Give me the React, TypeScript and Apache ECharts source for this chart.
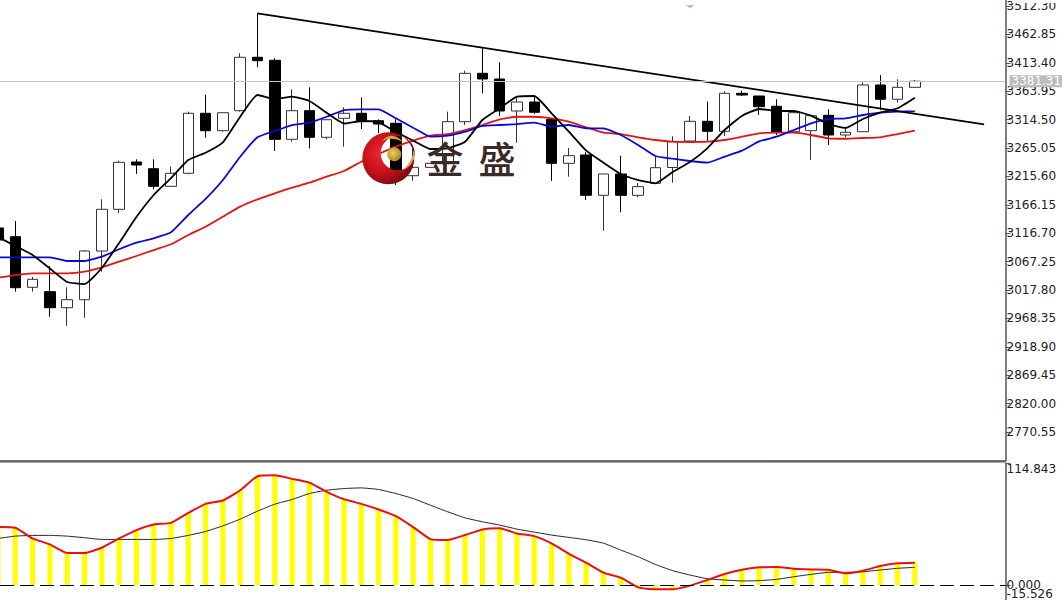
import React, { useEffect, useRef } from "react";
import * as echarts from "echarts";

const opens = [3125.8,3110.6,3022.5,3014.9,2987.0,3000.9,3085.7,3158.3,3240.7,3229.0,3198.4,3221.0,3325.5,3295.2,3330.0,3423.0,3417.8,3280.2,3330.0,3283.7,3316.8,3325.5,3312.6,3308.1,3216.8,3231.4,3238.4,3310.9,3395.1,3385.2,3329.5,3345.1,3315.0,3238.4,3252.9,3182.7,3219.8,3182.7,3203.6,3231.1,3277.2,3311.5,3294.1,3360.3,3355.6,3337.7,3293.4,3295.2,3322.0,3287.7,3293.4,3374.8,3349.9,3370.7];
const closes = [3104.9,3021.8,3036.4,2987.0,3000.9,3085.7,3158.3,3240.1,3235.4,3198.4,3221.0,3325.5,3295.2,3326.5,3423.0,3417.1,3280.2,3330.0,3283.7,3314.3,3325.5,3310.9,3306.8,3225.5,3231.4,3238.4,3310.9,3395.1,3385.2,3329.5,3345.1,3327.2,3238.4,3251.7,3182.7,3219.8,3182.7,3197.7,3230.8,3276.0,3311.5,3294.1,3360.3,3357.3,3337.0,3292.4,3326.5,3321.3,3287.7,3292.4,3374.8,3349.9,3370.7,3381.31];
const lows = [3103.1,3014.9,3014.9,2971.3,2955.6,2969.6,3049.7,3151.4,3219.8,3193.1,3198.4,3219.3,3283.0,3293.4,3328.3,3405.6,3259.8,3276.0,3264.5,3280.2,3267.3,3298.1,3291.2,3200.6,3208.1,3231.4,3238.4,3305.1,3360.3,3320.8,3274.3,3324.3,3207.6,3215.1,3174.5,3121.1,3153.1,3179.2,3203.6,3204.6,3277.2,3277.8,3285.9,3355.6,3322.5,3287.7,3292.4,3244.2,3270.3,3283.7,3293.4,3331.2,3344.0,3370.7];
const highs = [3129.2,3138.0,3040.4,3059.6,3022.5,3087.4,3175.7,3243.0,3245.4,3245.4,3232.5,3328.3,3357.9,3326.5,3430.0,3499.6,3421.2,3367.3,3370.7,3315.5,3335.9,3353.3,3315.0,3315.0,3270.3,3238.4,3328.3,3399.6,3438.6,3414.3,3354.4,3354.4,3316.8,3265.1,3257.6,3219.8,3251.7,3204.1,3249.9,3285.4,3320.8,3345.7,3363.8,3364.8,3355.6,3349.9,3327.7,3322.5,3332.4,3299.4,3379.5,3392.2,3384.7,3383.5];

const maFast = [3110.1,3094.4,3078.7,3055.2,3031.7,3028.2,3056.1,3099.6,3144.9,3183.2,3212.8,3244.2,3256.9,3275.0,3319.5,3357.3,3350.4,3354.4,3346.9,3326.5,3307.7,3312.1,3309.8,3293.4,3277.8,3263.3,3264.5,3276.0,3313.8,3334.2,3354.4,3355.6,3325.5,3293.4,3260.4,3239.5,3219.8,3209.3,3203.6,3223.3,3240.7,3264.5,3296.4,3320.8,3333.0,3329.5,3329.5,3321.3,3306.8,3299.9,3315.5,3326.5,3334.2,3352.6];
const maMid = [3074.7,3074.7,3074.7,3074.7,3068.3,3068.3,3075.8,3088.7,3100.2,3107.8,3118.3,3148.4,3176.3,3209.3,3249.9,3283.7,3294.7,3305.1,3309.1,3319.5,3331.2,3332.4,3332.4,3316.8,3300.4,3284.7,3286.5,3293.4,3303.4,3305.1,3306.8,3309.1,3302.1,3305.1,3299.4,3299.4,3287.7,3270.3,3251.1,3246.4,3242.4,3239.5,3249.9,3260.4,3276.7,3284.7,3296.4,3308.1,3315.5,3316.8,3322.5,3326.5,3328.3,3329.0];
const maSlow = [3039.2,3043.9,3046.9,3046.9,3046.9,3049.7,3057.3,3067.1,3077.0,3087.4,3097.4,3113.6,3128.0,3145.4,3162.9,3175.7,3186.2,3195.9,3204.6,3215.1,3225.0,3241.2,3254.6,3267.3,3277.8,3286.5,3289.4,3296.4,3305.1,3315.0,3319.5,3319.5,3316.8,3310.9,3301.1,3291.7,3289.4,3283.7,3279.0,3276.0,3275.5,3276.0,3279.0,3284.7,3290.7,3291.7,3291.7,3287.7,3281.9,3281.2,3282.5,3283.7,3289.4,3295.2];

const macd = [54.5,53.9,43.8,38.2,30.1,30.1,35.1,43.8,51.7,57.0,58.5,67.9,76.4,79.5,89.2,102.4,103.3,99.9,96.4,87.7,80.8,76.4,71.1,64.8,54.5,43.2,42.3,47.0,52.3,53.5,48.5,46.0,39.1,29.4,21.0,11.6,6.9,-2.2,-4.1,-4.1,-0.6,4.7,10.3,14.4,16.6,16.9,15.3,14.7,14.4,11.0,13.5,17.8,20.4,21.0];
const signal = [43.8,46.0,46.7,46.7,46.0,44.5,42.9,42.9,42.9,42.9,43.8,46.7,50.4,55.7,62.0,69.5,76.1,80.5,86.1,89.2,90.8,91.4,89.9,86.1,81.4,75.1,68.9,63.2,59.5,56.4,52.6,49.8,47.0,44.8,42.6,39.4,32.9,26.6,19.4,13.5,9.4,5.9,4.7,3.8,4.1,5.3,7.8,10.0,11.9,11.9,12.5,14.1,15.7,16.6];

const priceTicks = [3512.30,3462.85,3413.40,3363.95,3314.50,3265.05,3215.60,3166.15,3116.70,3067.25,3017.80,2968.35,2918.90,2869.45,2820.00,2770.55];
const macdTicks = [0,114.843];
const macdMinTick = [-15.526];
const lastPrice = 3381.31;
const trendIndex = [15,57];
const trendPrice = [3499.6,3306.3];

const CRESCENT = "M-26,0 A26,26 0 1,1 26,0 A26,26 0 1,1 -26,0 Z M-7.6,-5 A17,17 0 1,0 26.4,-5 A17,17 0 1,0 -7.6,-5 Z";
const SWOOSH_TOP = "M382,141 Q392,130 403,142 Q392,136 382,141 Z";
const SWOOSH_RIGHT = "M403,170 Q416,164 414,151 Q411,163 403,170 Z";

let registered = false;
function registerLogo() {
  if (registered) return;
  registered = true;
  echarts.graphic.registerShape("jsCrescent", echarts.graphic.extendPath(CRESCENT, {}));
  echarts.graphic.registerShape("jsSwooshTop", echarts.graphic.extendPath(SWOOSH_TOP, {}));
  echarts.graphic.registerShape("jsSwooshRight", echarts.graphic.extendPath(SWOOSH_RIGHT, {}));
}

const XMIN = 0.1156;
const XMAX = 58.24;
const FONT = "DejaVu Sans";
const MA_SMOOTH = 0.15;

export default function App() {
  const ref = useRef<HTMLDivElement>(null);
  useEffect(() => {
    document.body.style.margin = "0";
    registerLogo();
    const chart = echarts.init(ref.current!, null, { renderer: "svg" });
    const idx = (a: number[]) => a.map((v, i) => [i, v]);
    const xAxisBase = {
      type: "value",
      min: XMIN,
      max: XMAX,
      axisLabel: { show: false },
      axisTick: { show: false },
      splitLine: { show: false },
    };
    const yAxisBase = {
      type: "value",
      position: "right",
      scale: true,
      splitLine: { show: false },
      axisLine: { show: true, onZero: false, lineStyle: { color: "#555", width: 1.5 } },
      axisTick: { show: true, length: 5, lineStyle: { color: "#555", width: 1 } },
    };
    const macdLabel = { formatter: (v: number) => v.toFixed(3), color: "#222", fontFamily: FONT, fontSize: 12, margin: 1 };
    chart.setOption({
      animation: false,
      backgroundColor: "#fff",
      grid: [
        { left: 0, top: 0, width: 1005.5, height: 460.5, show: false, outerBoundsMode: "none" },
        { left: 0, top: 463, width: 1005.5, height: 138.5, show: false, outerBoundsMode: "none" },
      ],
      xAxis: [
        { ...xAxisBase, gridIndex: 0, axisLine: { show: true, onZero: false, lineStyle: { color: "#444", width: 1.5 } } },
        { ...xAxisBase, gridIndex: 1, axisLine: { show: false } },
      ],
      yAxis: [
        {
          ...yAxisBase,
          gridIndex: 0,
          min: 2720.95,
          max: 3522.75,
          axisTick: { ...yAxisBase.axisTick, customValues: priceTicks },
          axisLabel: {
            customValues: priceTicks,
            formatter: (v: number) => v.toFixed(2),
            color: "#222",
            fontFamily: FONT,
            fontSize: 12,
            margin: 1,
            padding: [2, 0, 0, 0],
            showMinLabel: true,
            showMaxLabel: true,
          },
        },
        {
          ...yAxisBase,
          gridIndex: 1,
          min: -15.526,
          max: 114.843,
          axisTick: { ...yAxisBase.axisTick, customValues: macdTicks },
          axisLabel: { ...macdLabel, customValues: macdTicks, verticalAlignMaxLabel: "top" },
        },
        {
          ...yAxisBase,
          gridIndex: 1,
          min: -15.526,
          max: 114.843,
          axisLine: { show: false },
          axisTick: { show: false },
          axisLabel: { ...macdLabel, customValues: macdMinTick, lineHeight: 11, verticalAlign: "bottom", padding: [0, 0, 2, 0] },
        },
      ],
      series: [
        {
          type: "candlestick",
          xAxisIndex: 0,
          yAxisIndex: 0,
          barWidth: 11,
          data: opens.map((o, i) => [i, o, closes[i], lows[i], highs[i]]),
          itemStyle: { color: "#fff", color0: "#000", borderColor: "#333", borderColor0: "#000", borderWidth: 1 },
          markLine: {
            silent: true,
            symbol: "none",
            animation: false,
            lineStyle: { color: "#c4c4c4", width: 1, type: "solid" },
            data: [{ yAxis: lastPrice }],
            label: {
              show: true,
              position: "end",
              distance: 4,
              formatter: () => lastPrice.toFixed(2),
              color: "#fff",
              backgroundColor: "#bdbdbd",
              fontFamily: FONT,
              fontSize: 12,
              padding: [0, 2],
            },
          },
        },
        { type: "line", xAxisIndex: 0, yAxisIndex: 0, data: idx(maSlow), showSymbol: false, smooth: MA_SMOOTH, lineStyle: { color: "#e41414", width: 1.8 } },
        { type: "line", xAxisIndex: 0, yAxisIndex: 0, data: idx(maMid), showSymbol: false, smooth: MA_SMOOTH, lineStyle: { color: "#0808d8", width: 1.8 } },
        { type: "line", xAxisIndex: 0, yAxisIndex: 0, data: idx(maFast), showSymbol: false, smooth: MA_SMOOTH, lineStyle: { color: "#000", width: 1.8 } },
        {
          type: "line",
          xAxisIndex: 0,
          yAxisIndex: 0,
          data: trendIndex.map((x, i) => [x, trendPrice[i]]),
          showSymbol: false,
          lineStyle: { color: "#000", width: 1.8 },
        },
        {
          type: "bar",
          xAxisIndex: 1,
          yAxisIndex: 1,
          data: idx(macd),
          barWidth: 5,
          itemStyle: { color: "#ffff00" },
          markLine: {
            silent: true,
            symbol: "none",
            animation: false,
            label: { show: false },
            lineStyle: { color: "#000", width: 1, type: [14, 6] },
            data: [{ yAxis: 0 }],
          },
        },
        { type: "line", xAxisIndex: 1, yAxisIndex: 1, data: idx(signal), showSymbol: false, smooth: MA_SMOOTH, lineStyle: { color: "#222", width: 1 } },
        { type: "line", xAxisIndex: 1, yAxisIndex: 1, data: idx(macd), showSymbol: false, smooth: MA_SMOOTH, lineStyle: { color: "#e81010", width: 2 } },
      ],
      graphic: [
        { type: "rect", z: 50, shape: { x: 1012, y: 0, width: 50, height: 3 }, style: { fill: "#fff" } },
        { type: "polygon", z: 50, shape: { points: [[686, 5], [694, 5], [690, 8.5]] }, style: { fill: "#bbb" } },
        { type: "line", z: 50, shape: { x1: 0, y1: 462, x2: 1005, y2: 462 }, style: { stroke: "#555", lineWidth: 1 } },
        {
          type: "jsCrescent",
          z: 60,
          x: 388.3,
          y: 158.3,
          style: {
            fill: {
              type: "radial",
              x: 0.38,
              y: 0.4,
              r: 0.65,
              colorStops: [
                { offset: 0, color: "#ee2a30" },
                { offset: 0.6, color: "#c41018" },
                { offset: 1, color: "#780a10" },
              ],
            },
          },
        },
        { type: "jsSwooshTop", z: 60, style: { fill: "#c9ab44" } },
        { type: "jsSwooshRight", z: 60, style: { fill: "#c9ab44" } },
        {
          type: "circle",
          z: 60,
          shape: { cx: 394.3, cy: 154.3, r: 7 },
          style: {
            fill: {
              type: "radial",
              x: 0.4,
              y: 0.4,
              r: 0.6,
              colorStops: [
                { offset: 0, color: "#e8d060" },
                { offset: 1, color: "#a88a24" },
              ],
            },
          },
        },
        {
          type: "text",
          z: 60,
          x: 445,
          y: 158,
          style: { text: "金", fontFamily: "Noto Sans CJK SC", fontSize: 37, fontWeight: 500, fill: "#3a2a25", align: "center", verticalAlign: "middle" },
        },
        {
          type: "text",
          z: 60,
          x: 497,
          y: 158,
          style: { text: "盛", fontFamily: "Noto Sans CJK SC", fontSize: 37, fontWeight: 500, fill: "#3a2a25", align: "center", verticalAlign: "middle" },
        },
      ],
    });
    return () => chart.dispose();
  }, []);
  return <div ref={ref} style={{ width: 1062, height: 600, display: "block" }} />;
}
